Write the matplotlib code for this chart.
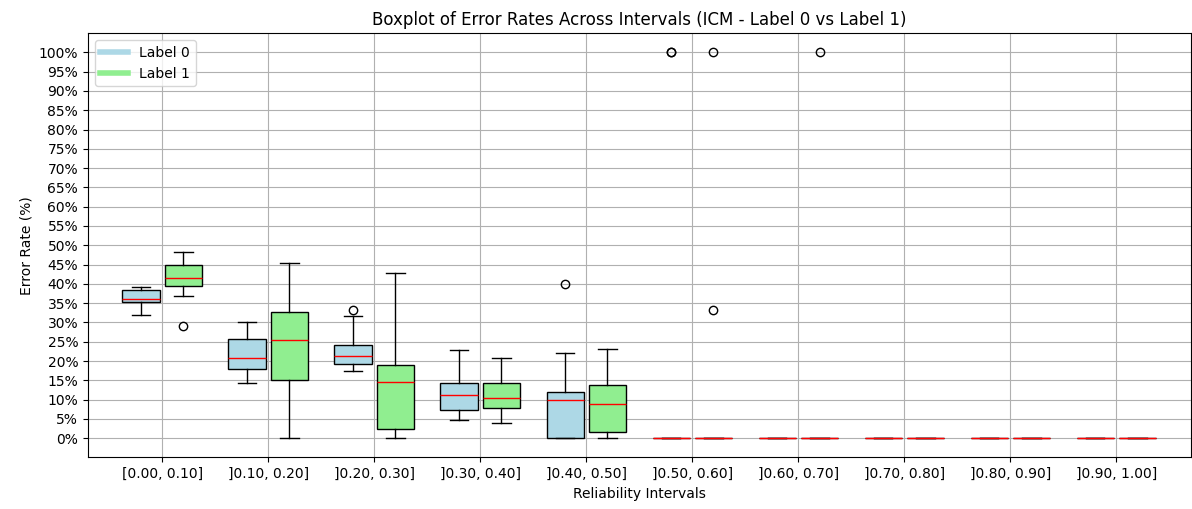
import matplotlib
matplotlib.use("Agg")
import matplotlib.pyplot as plt
from matplotlib.lines import Line2D
from matplotlib.ticker import FixedLocator

intervals = ["[0.00, 0.10]", "]0.10, 0.20]", "]0.20, 0.30]", "]0.30, 0.40]", "]0.40, 0.50]",
             "]0.50, 0.60]", "]0.60, 0.70]", "]0.70, 0.80]", "]0.80, 0.90]", "]0.90, 1.00]"]

# Per-interval box statistics (error rate, %)
l0_whislo = [32.0, 14.2, 17.4, 4.6, 0.0, 0, 0, 0, 0, 0]
l0_q1     = [35.2, 18.0, 19.2, 7.4, 0.0, 0, 0, 0, 0, 0]
l0_med    = [36.2, 20.8, 21.2, 11.1, 9.9, 0, 0, 0, 0, 0]
l0_q3     = [38.3, 25.6, 24.2, 14.2, 11.9, 0, 0, 0, 0, 0]
l0_whishi = [39.1, 30.0, 31.7, 22.9, 22.2, 0, 0, 0, 0, 0]
l0_fliers = [[], [], [33.2], [], [40.0], [100.0, 100.0], [], [], [], []]

l1_whislo = [36.8, 0.0, 0.0, 4.0, 0.0, 0, 0, 0, 0, 0]
l1_q1     = [39.4, 15.1, 2.3, 7.7, 1.6, 0, 0, 0, 0, 0]
l1_med    = [41.4, 25.4, 14.5, 10.5, 8.8, 0, 0, 0, 0, 0]
l1_q3     = [45.0, 32.8, 19.1, 14.4, 13.9, 0, 0, 0, 0, 0]
l1_whishi = [48.2, 45.3, 42.7, 20.8, 23.1, 0, 0, 0, 0, 0]
l1_fliers = [[29.1], [], [], [], [], [100.0, 33.3], [100.0], [], [], []]


def make_stats(lo, q1, med, q3, hi, fl):
    return [dict(whislo=a, q1=b, med=c, q3=d, whishi=e, fliers=f)
            for a, b, c, d, e, f in zip(lo, q1, med, q3, hi, fl)]


stats0 = make_stats(l0_whislo, l0_q1, l0_med, l0_q3, l0_whishi, l0_fliers)
stats1 = make_stats(l1_whislo, l1_q1, l1_med, l1_q3, l1_whishi, l1_fliers)

fig = plt.figure(figsize=(11.92, 5.09), dpi=100)
ax = fig.add_axes([0.0738, 0.1012, 0.925, 0.8338])

pos = list(range(1, len(intervals) + 1))
common = dict(widths=0.35, patch_artist=True,
              medianprops=dict(color="red"),
              flierprops=dict(marker="o", markerfacecolor="none", markeredgecolor="black"))
b0 = ax.bxp(stats0, positions=[p - 0.2 for p in pos], **common)
b1 = ax.bxp(stats1, positions=[p + 0.2 for p in pos], **common)
for patch in b0["boxes"]:
    patch.set_facecolor("lightblue")
for patch in b1["boxes"]:
    patch.set_facecolor("lightgreen")

ax.set_xticks(pos)
ax.set_xticklabels(intervals)
ax.set_xlim(0.3, 10.7)
ax.set_ylim(-5, 105)
yt = list(range(0, 101, 5))
ax.yaxis.set_major_locator(FixedLocator(yt))
ax.set_yticklabels([f"{v}%" for v in yt])
ax.grid(True)
ax.set_axisbelow(True)

ax.set_title("Boxplot of Error Rates Across Intervals (ICM - Label 0 vs Label 1)")
ax.set_xlabel("Reliability Intervals")
ax.set_ylabel("Error Rate (%)")

handles = [Line2D([0], [0], color="lightblue", lw=4),
           Line2D([0], [0], color="lightgreen", lw=4)]
ax.legend(handles, ["Label 0", "Label 1"], loc="upper left")

fig.savefig("out.png", dpi=100)
